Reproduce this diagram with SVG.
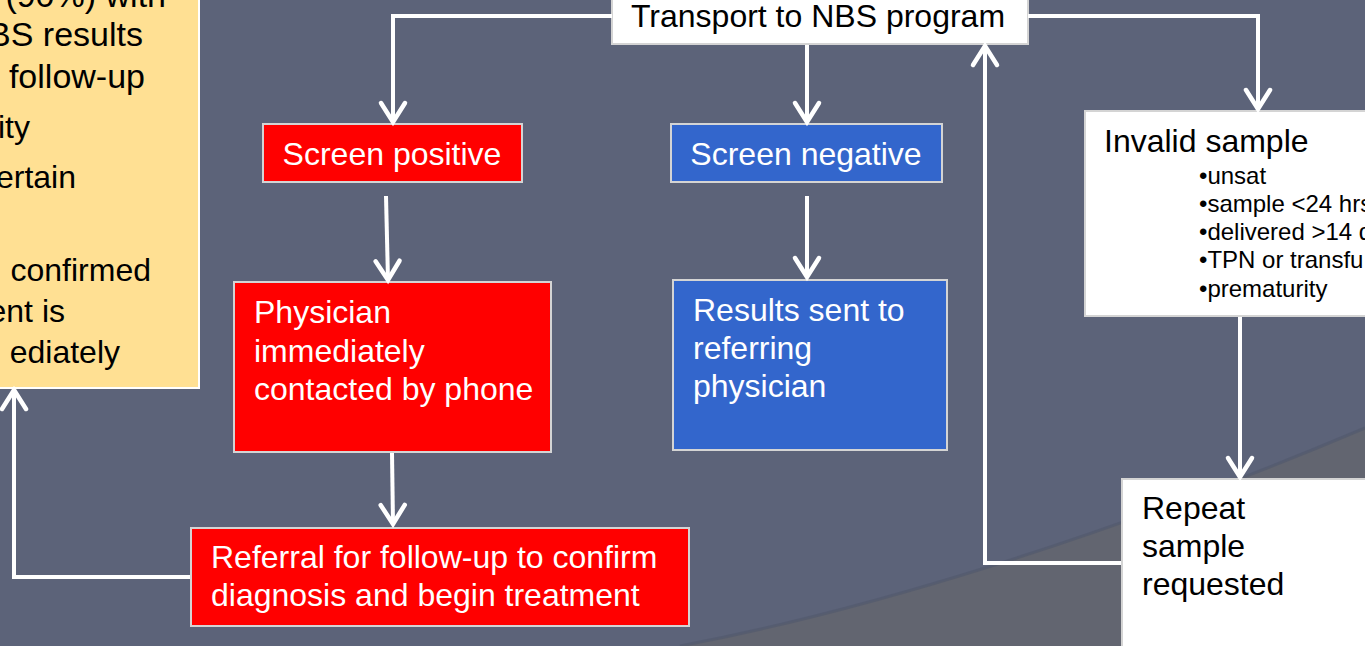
<svg xmlns="http://www.w3.org/2000/svg" width="1365" height="646" viewBox="0 0 1365 646">
  <defs>
    <style>
      text { font-family: "Liberation Sans", Arial, sans-serif; }
      .box { stroke: #d4d4d4; stroke-width: 2; }
      .red { fill: #ff0000; }
      .blue { fill: #3366cc; }
      .white { fill: #ffffff; }
      .yellow { fill: #ffe093; stroke: #ffffff; stroke-width: 2; }
      .wt { fill: #ffffff; font-size: 32px; }
      .bt { fill: #000000; font-size: 32px; }
      .yt { fill: #000000; font-size: 32px; text-anchor: end; }
      .st { fill: #000000; font-size: 24px; }
      .conn { fill: none; stroke: #ffffff; stroke-width: 4; stroke-linejoin: miter; }
    </style>
    <marker id="arrow" markerUnits="userSpaceOnUse" markerWidth="30" markerHeight="30" viewBox="-24 -15 28 30" refX="0" refY="0" orient="auto" overflow="visible">
      <path d="M -19 -12 L 0 0 L -19 12" fill="none" stroke="#ffffff" stroke-width="4.5" stroke-linecap="round" stroke-linejoin="miter"/>
    </marker>
    <linearGradient id="edge" x1="0" y1="0" x2="1" y2="0">
      <stop offset="0" stop-color="#626570" stop-opacity="0"/>
      <stop offset="1" stop-color="#4c5060" stop-opacity="0.6"/>
    </linearGradient>
  </defs>

  <!-- background -->
  <rect x="0" y="0" width="1365" height="646" fill="#5c6379"/>
  <path d="M 680 646 C 860 612 1100 540 1365 428 L 1365 646 Z" fill="#626570"/>
  <path d="M 680 646 C 860 612 1100 540 1365 428" fill="none" stroke="#535a6d" stroke-width="3" opacity="0.7"/>

  <!-- nodes -->
  <g id="note">
    <rect class="yellow" x="-10" y="-10" width="209" height="398"/>
    <text class="yt" x="166" y="7" style="font-size:34px">(90%) with</text>
    <text class="yt" x="143" y="46" style="font-size:34px">BS results</text>
    <text class="yt" x="145" y="88" style="font-size:34px">follow-up</text>
    <text class="yt" x="30" y="138">ity</text>
    <text class="yt" x="76" y="188">ertain</text>
    <text class="yt" x="151" y="281">confirmed</text>
    <text class="yt" x="65" y="322">ent is</text>
    <text class="yt" x="120" y="363">ediately</text>
  </g>

  <g id="transport">
    <rect class="box white" x="612" y="-10" width="416" height="54"/>
    <text class="bt" x="818" y="27" text-anchor="middle">Transport to NBS program</text>
  </g>

  <g id="screen-positive">
    <rect class="box red" x="263" y="124" width="259" height="58"/>
    <text class="wt" x="392" y="165" text-anchor="middle">Screen positive</text>
  </g>

  <g id="screen-negative">
    <rect class="box blue" x="671" y="124" width="271" height="58"/>
    <text class="wt" x="806" y="165" text-anchor="middle">Screen negative</text>
  </g>

  <g id="physician">
    <rect class="box red" x="234" y="282" width="317" height="170"/>
    <text class="wt" x="254" y="323">Physician</text>
    <text class="wt" x="254" y="362">immediately</text>
    <text class="wt" x="254" y="400">contacted by phone</text>
  </g>

  <g id="results">
    <rect class="box blue" x="673" y="280" width="274" height="170"/>
    <text class="wt" x="693" y="321">Results sent to</text>
    <text class="wt" x="693" y="359">referring</text>
    <text class="wt" x="693" y="397">physician</text>
  </g>

  <g id="referral">
    <rect class="box red" x="191" y="528" width="498" height="98"/>
    <text class="wt" x="211" y="568">Referral for follow-up to confirm</text>
    <text class="wt" x="211" y="606">diagnosis and begin treatment</text>
  </g>

  <g id="invalid">
    <rect class="box white" x="1085" y="111" width="290" height="205"/>
    <text class="bt" x="1104" y="152">Invalid sample</text>
    <text class="st" x="1199" y="184">•unsat</text>
    <text class="st" x="1199" y="212">•sample &lt;24 hrs</text>
    <text class="st" x="1199" y="240">•delivered &gt;14 d</text>
    <text class="st" x="1199" y="268">•TPN or transfu</text>
    <text class="st" x="1199" y="297">•prematurity</text>
  </g>

  <g id="repeat">
    <rect class="box white" x="1122" y="479" width="260" height="180"/>
    <text class="bt" x="1142" y="519">Repeat</text>
    <text class="bt" x="1142" y="557">sample</text>
    <text class="bt" x="1142" y="595">requested</text>
  </g>

  <!-- connectors -->
  <g id="connectors">
    <polyline class="conn" points="612,16 393,16 393,122" marker-end="url(#arrow)"/>
    <polyline class="conn" points="1028,16 1258,16 1258,109" marker-end="url(#arrow)"/>
    <line class="conn" x1="807" y1="45" x2="807" y2="122" marker-end="url(#arrow)"/>
    <line class="conn" x1="386" y1="196" x2="388" y2="280" marker-end="url(#arrow)"/>
    <line class="conn" x1="392" y1="453" x2="393" y2="524" marker-end="url(#arrow)"/>
    <line class="conn" x1="807" y1="196" x2="807" y2="277" marker-end="url(#arrow)"/>
    <line class="conn" x1="1240" y1="317" x2="1240" y2="477" marker-end="url(#arrow)"/>
    <polyline class="conn" points="1121,563 985,563 985,46" marker-end="url(#arrow)"/>
    <polyline class="conn" points="190,577 14,577 14,390" marker-end="url(#arrow)"/>
  </g>
</svg>
